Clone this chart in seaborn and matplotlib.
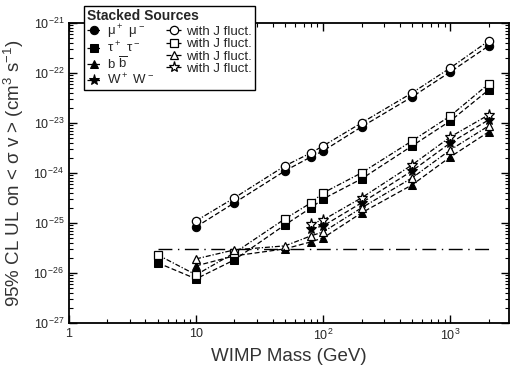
import numpy as np
import seaborn as sns
import matplotlib.pyplot as plt
from matplotlib.ticker import LogLocator, FixedLocator, NullFormatter

# WIMP masses (GeV)
mass_mu = [10, 20, 50, 80, 100, 200, 500, 1000, 2000]
mass_tau = [5, 10, 20, 50, 80, 100, 200, 500, 1000, 2000]
mass_bb = [10, 20, 50, 80, 100, 200, 500, 1000, 2000]
mass_ww = [80, 100, 200, 500, 1000, 2000]

# log10 of <sigma v> upper limits (cm^3 s^-1)
log_mu = [-25.08, -24.60, -23.96, -23.68, -23.56, -23.08, -22.48, -21.98, -21.46]
log_mu_j = [-24.96, -24.50, -23.86, -23.60, -23.46, -23.00, -22.40, -21.90, -21.36]
log_tau = [-25.80, -26.12, -25.74, -25.04, -24.70, -24.52, -24.12, -23.46, -22.96, -22.34]
log_tau_j = [-25.64, -26.04, -25.60, -24.92, -24.60, -24.40, -24.00, -23.36, -22.86, -22.22]
log_bb = [-25.86, -25.66, -25.52, -25.38, -25.30, -24.80, -24.24, -23.68, -23.18]
log_bb_j = [-25.72, -25.54, -25.46, -25.26, -25.18, -24.70, -24.10, -23.54, -23.06]
log_ww = [-25.12, -25.06, -24.60, -23.96, -23.40, -22.94]
log_ww_j = [-25.02, -24.94, -24.50, -23.84, -23.28, -22.84]

# thermal relic cross section line
relic_mass = [5, 2000]
relic_value = [3e-26, 3e-26]

y_ticks = [1e-27, 1e-26, 1e-25, 1e-24, 1e-23, 1e-22, 1e-21]

sns.set_style("ticks")
plt.rcParams['font.family'] = ['Liberation Sans', 'DejaVu Sans']
plt.rcParams['mathtext.default'] = 'regular'

fig = plt.figure(figsize=(5.18, 3.75), dpi=100)
ax = fig.add_axes([0.133, 0.139, 0.850, 0.800])

series = [
    (mass_mu, log_mu, 'o', r'$\mu^+\ \mu^-$'),
    (mass_tau, log_tau, 's', r'$\tau^+\ \tau^-$'),
    (mass_bb, log_bb, '^', r'b $\overline{b}$'),
    (mass_ww, log_ww, '*', r'W$^+$ W$^-$'),
]
series_j = [
    (mass_mu, log_mu_j, 'o'),
    (mass_tau, log_tau_j, 's'),
    (mass_bb, log_bb_j, '^'),
    (mass_ww, log_ww_j, '*'),
]

for m, v, mk, lab in series:
    sns.lineplot(x=m, y=10.0 ** np.array(v), ax=ax, color='black', linestyle=(0, (4, 2)),
                 lw=0.9, marker=mk, markersize=6 if mk != '*' else 8, markerfacecolor='black',
                 markeredgecolor='black', label=lab)
for m, v, mk in series_j:
    sns.lineplot(x=m, y=10.0 ** np.array(v), ax=ax, color='black', linestyle=(0, (4, 1.5, 1, 1.5)),
                 lw=0.9, marker=mk, markersize=6 if mk != '*' else 8, markerfacecolor='white',
                 markeredgecolor='black', markeredgewidth=0.9, label='with J fluct.')

ax.plot(relic_mass, relic_value, color='black', lw=1.0, linestyle=(0, (10, 4, 1, 4)))

ax.set_xscale('log')
ax.set_yscale('log')
ax.set_xlim(1, 2900)
ax.set_ylim(1e-27, 1e-21)
ax.xaxis.set_major_locator(FixedLocator([1, 10, 100, 1000]))
ax.set_xticklabels(['1', '10', r'$10^2$', r'$10^3$'])
ax.yaxis.set_major_locator(FixedLocator(y_ticks))
ax.set_yticklabels([r'$10^{%d}$' % int(np.log10(t)) for t in y_ticks])
ax.yaxis.set_minor_locator(LogLocator(base=10, subs=np.arange(2, 10), numticks=20))
ax.xaxis.set_minor_locator(LogLocator(base=10, subs=np.arange(2, 10), numticks=20))
ax.xaxis.set_minor_formatter(NullFormatter())
ax.yaxis.set_minor_formatter(NullFormatter())
ax.tick_params(which='both', direction='in', top=True, right=True, labelsize=9, color='black')
ax.tick_params(which='major', length=6, width=1)
ax.tick_params(which='minor', length=3, width=0.8)
for sp in ax.spines.values():
    sp.set_linewidth(1.3)
    sp.set_color('black')

ax.set_xlabel('WIMP Mass (GeV)', fontsize=13.5, color='#333333')
ax.set_ylabel(r'95% CL UL on < $\sigma$ v > (cm$^3$ s$^{-1}$)', fontsize=13.5, color='#333333')
ax.yaxis.set_label_coords(-0.098, 0.5)

handles, labels = ax.get_legend_handles_labels()
leg = ax.legend(handles[:8], labels[:8], ncol=2, title='Stacked Sources', loc='upper left',
                bbox_to_anchor=(0.162, 0.984), bbox_transform=fig.transFigure,
                fontsize=9.5, title_fontproperties={'weight': 'bold', 'size': 10},
                frameon=True, fancybox=False, edgecolor='black', framealpha=1,
                handlelength=1.2, handletextpad=0.35, columnspacing=0.9,
                labelspacing=0.0, borderpad=0.2, borderaxespad=0)
leg._legend_box.align = 'left'
leg.get_frame().set_linewidth(1.0)
leg.set_zorder(10)

fig.savefig('out.png', dpi=100)
